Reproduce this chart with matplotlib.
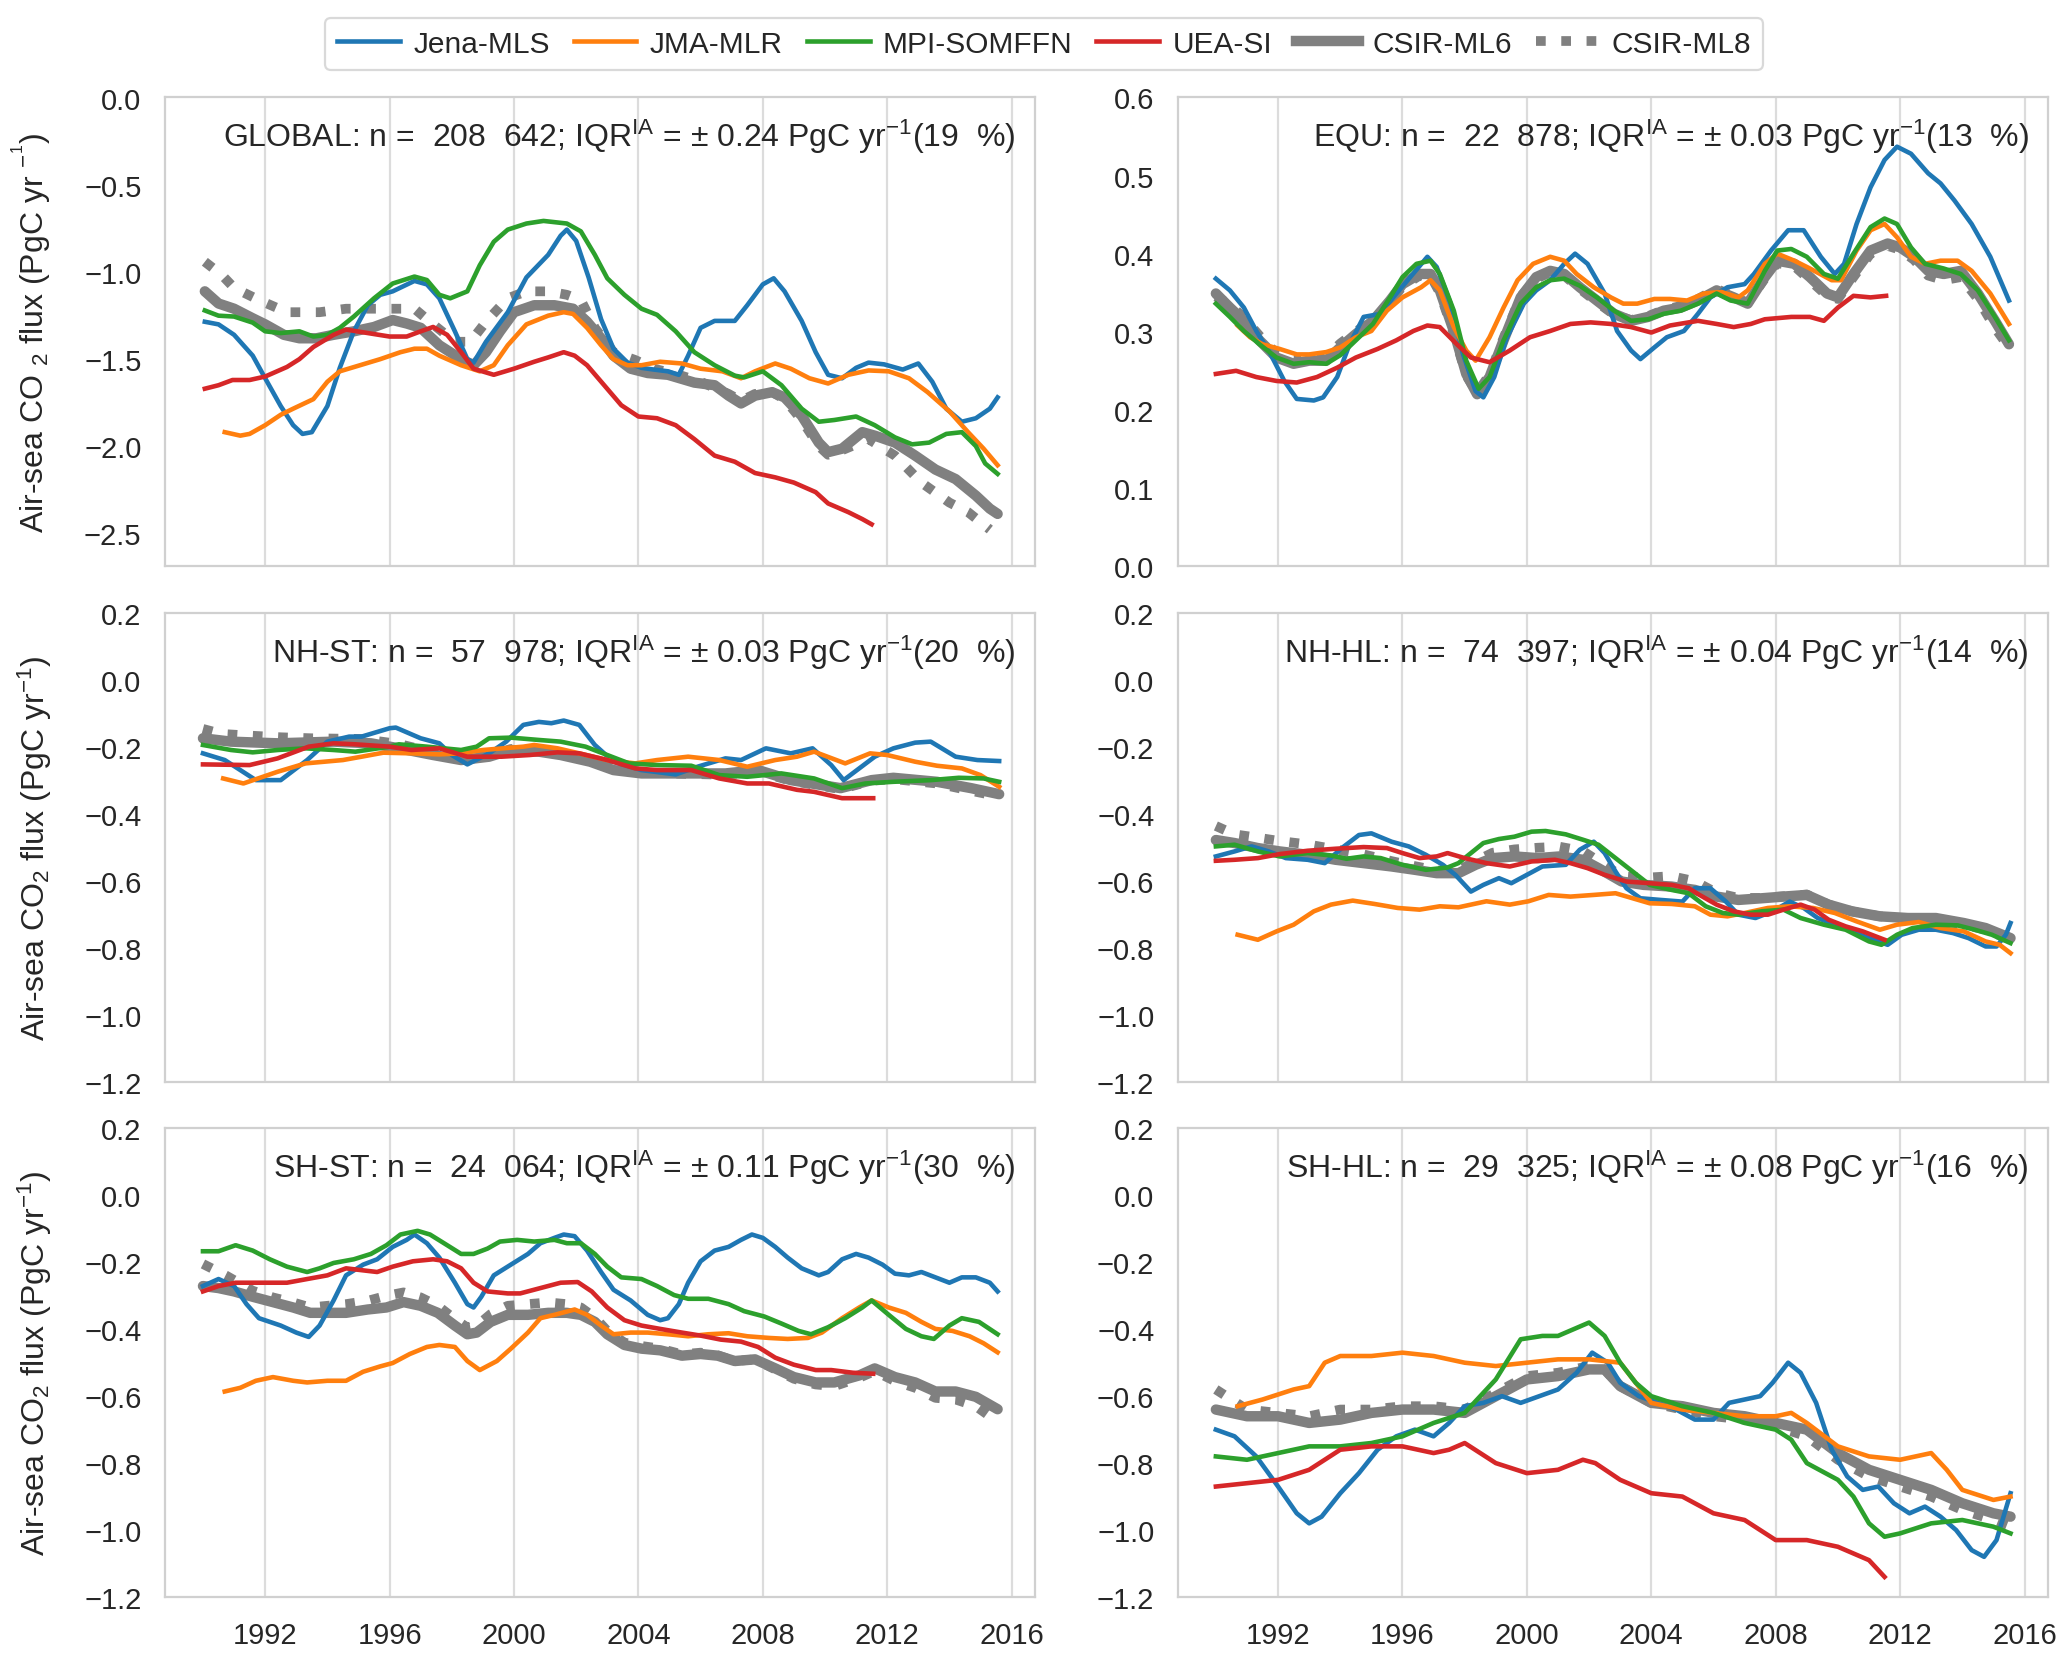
import numpy as np
import matplotlib
matplotlib.use("Agg")
import matplotlib.pyplot as plt
from matplotlib.lines import Line2D

plt.rcParams['font.family'] = ['Liberation Sans', 'DejaVu Sans']
plt.rcParams['mathtext.fontset'] = 'custom'
plt.rcParams['mathtext.rm'] = 'Liberation Sans'
plt.rcParams['mathtext.it'] = 'Liberation Sans:italic'
plt.rcParams['mathtext.bf'] = 'Liberation Sans:bold'
plt.rcParams['axes.unicode_minus'] = True

# ---------------- data (year, PgC/yr) ----------------
GLOBAL_JENA = [(1990.06,-1.285),(1990.5,-1.30),(1991.0,-1.36),(1991.6,-1.48),(1992.0,-1.61),(1992.5,-1.77),(1992.9,-1.88),(1993.2,-1.93),(1993.5,-1.92),(1994.0,-1.77),(1994.4,-1.55),(1994.85,-1.34),(1995.3,-1.19),(1995.7,-1.13),(1996.1,-1.11),(1996.8,-1.05),(1997.2,-1.07),(1997.6,-1.15),(1998.1,-1.34),(1998.5,-1.50),(1998.7,-1.52),(1999.1,-1.40),(1999.8,-1.23),(2000.4,-1.03),(2001.1,-0.90),(2001.5,-0.79),(2001.7,-0.755),(2002.0,-0.82),(2002.4,-1.03),(2002.8,-1.27),(2003.2,-1.44),(2003.65,-1.52),(2004.1,-1.55),(2004.5,-1.56),(2004.95,-1.57),(2005.3,-1.59),(2005.6,-1.48),(2006.0,-1.32),(2006.45,-1.28),(2007.1,-1.28),(2007.5,-1.19),(2008.0,-1.07),(2008.35,-1.035),(2008.7,-1.11),(2009.25,-1.28),(2009.7,-1.46),(2010.1,-1.59),(2010.55,-1.61),(2011.0,-1.55),(2011.4,-1.52),(2011.9,-1.53),(2012.5,-1.56),(2013.0,-1.525),(2013.45,-1.63),(2013.9,-1.785),(2014.4,-1.86),(2014.85,-1.84),(2015.3,-1.785),(2015.55,-1.72)]
GLOBAL_JMA = [(1990.7,-1.92),(1991.2,-1.94),(1991.5,-1.93),(1992.0,-1.88),(1992.5,-1.82),(1992.9,-1.785),(1993.55,-1.73),(1994.0,-1.63),(1994.4,-1.57),(1995.05,-1.535),(1995.7,-1.50),(1996.35,-1.46),(1996.8,-1.44),(1997.2,-1.44),(1997.6,-1.48),(1998.3,-1.535),(1998.9,-1.57),(1999.35,-1.535),(1999.8,-1.42),(2000.4,-1.30),(2001.1,-1.25),(2001.6,-1.23),(2001.9,-1.24),(2002.35,-1.32),(2002.8,-1.42),(2003.2,-1.50),(2003.65,-1.535),(2004.1,-1.535),(2004.7,-1.515),(2005.4,-1.525),(2006.0,-1.555),(2006.7,-1.57),(2007.3,-1.61),(2007.75,-1.57),(2008.4,-1.525),(2008.9,-1.555),(2009.5,-1.61),(2010.1,-1.64),(2010.75,-1.59),(2011.4,-1.565),(2012.05,-1.57),(2012.7,-1.61),(2013.3,-1.69),(2014.0,-1.80),(2014.6,-1.92),(2015.1,-2.015),(2015.55,-2.11)]
GLOBAL_MPI = [(1990.06,-1.22),(1990.5,-1.25),(1991.0,-1.255),(1991.6,-1.29),(1992.0,-1.34),(1992.5,-1.35),(1993.1,-1.34),(1993.55,-1.37),(1994.0,-1.36),(1994.4,-1.32),(1994.85,-1.255),(1995.5,-1.15),(1996.1,-1.065),(1996.8,-1.025),(1997.2,-1.045),(1997.6,-1.13),(1997.95,-1.15),(1998.5,-1.11),(1998.9,-0.96),(1999.35,-0.825),(1999.8,-0.755),(2000.4,-0.72),(2000.95,-0.705),(2001.7,-0.72),(2002.15,-0.765),(2002.6,-0.90),(2003.0,-1.035),(2003.55,-1.13),(2004.1,-1.21),(2004.6,-1.245),(2005.2,-1.34),(2005.8,-1.46),(2006.45,-1.535),(2007.1,-1.595),(2007.4,-1.605),(2008.0,-1.57),(2008.6,-1.65),(2009.25,-1.785),(2009.8,-1.86),(2010.3,-1.85),(2011.0,-1.83),(2011.6,-1.88),(2012.25,-1.95),(2012.8,-1.99),(2013.35,-1.98),(2013.9,-1.93),(2014.4,-1.92),(2014.85,-2.0),(2015.15,-2.10),(2015.55,-2.16)]
GLOBAL_UEA = [(1990.06,-1.67),(1990.5,-1.65),(1990.95,-1.62),(1991.5,-1.62),(1992.0,-1.60),(1992.7,-1.545),(1993.1,-1.50),(1993.55,-1.43),(1994.2,-1.36),(1994.6,-1.33),(1995.3,-1.35),(1996.0,-1.37),(1996.55,-1.37),(1997.0,-1.34),(1997.4,-1.315),(1997.85,-1.36),(1998.3,-1.46),(1998.7,-1.555),(1999.35,-1.59),(2000.0,-1.555),(2000.65,-1.515),(2001.1,-1.49),(2001.6,-1.46),(2001.95,-1.48),(2002.35,-1.535),(2002.9,-1.65),(2003.45,-1.765),(2004.0,-1.83),(2004.6,-1.84),(2005.2,-1.88),(2005.8,-1.96),(2006.45,-2.055),(2007.1,-2.09),(2007.75,-2.155),(2008.4,-2.18),(2009.0,-2.21),(2009.7,-2.265),(2010.1,-2.33),(2010.75,-2.38),(2011.2,-2.42),(2011.5,-2.45)]
GLOBAL_ML6 = [(1990.06,-1.11),(1990.5,-1.18),(1991.0,-1.21),(1991.6,-1.265),(1992.0,-1.30),(1992.6,-1.36),(1993.1,-1.38),(1993.65,-1.38),(1994.2,-1.36),(1994.85,-1.34),(1995.5,-1.315),(1996.1,-1.275),(1996.55,-1.295),(1997.0,-1.32),(1997.6,-1.42),(1998.3,-1.50),(1998.7,-1.535),(1999.1,-1.46),(1999.55,-1.34),(2000.0,-1.23),(2000.65,-1.19),(2001.3,-1.19),(2001.9,-1.21),(2002.35,-1.285),(2002.8,-1.38),(2003.2,-1.48),(2003.75,-1.555),(2004.3,-1.58),(2004.95,-1.59),(2005.8,-1.635),(2006.45,-1.65),(2006.9,-1.71),(2007.3,-1.755),(2007.75,-1.71),(2008.3,-1.69),(2008.7,-1.72),(2009.25,-1.825),(2009.8,-1.98),(2010.1,-2.035),(2010.55,-2.015),(2011.2,-1.92),(2011.6,-1.94),(2012.25,-1.98),(2012.9,-2.055),(2013.55,-2.135),(2014.2,-2.19),(2014.85,-2.285),(2015.3,-2.36),(2015.55,-2.39)]
GLOBAL_ML8 = [(1990.06,-0.94),(1990.6,-1.015),(1991.0,-1.09),(1991.8,-1.16),(1992.7,-1.23),(1993.75,-1.23),(1994.6,-1.21),(1995.4,-1.21),(1996.1,-1.21),(1996.8,-1.21),(1997.4,-1.30),(1998.1,-1.40),(1998.6,-1.40),(1999.1,-1.285),(1999.8,-1.15),(2000.4,-1.11),(2001.1,-1.11),(2001.7,-1.13),(2002.15,-1.16),(2002.6,-1.32),(2003.2,-1.46),(2003.9,-1.505),(2004.5,-1.555),(2005.3,-1.59),(2006.0,-1.63),(2006.9,-1.70),(2007.3,-1.74),(2007.75,-1.70),(2008.3,-1.69),(2008.7,-1.73),(2009.25,-1.85),(2009.8,-2.0),(2010.1,-2.05),(2010.6,-2.02),(2011.4,-1.96),(2012.25,-2.055),(2013.1,-2.21),(2014.0,-2.325),(2014.6,-2.38),(2015.3,-2.48)]

EQU_JENA = [(1990.0,0.368),(1990.45,0.353),(1990.9,0.331),(1991.3,0.301),(1991.75,0.272),(1992.2,0.237),(1992.6,0.214),(1993.15,0.212),(1993.45,0.216),(1993.9,0.242),(1994.3,0.284),(1994.75,0.319),(1995.3,0.323),(1995.7,0.344),(1996.25,0.370),(1996.8,0.396),(1997.1,0.383),(1997.55,0.336),(1997.95,0.271),(1998.35,0.224),(1998.6,0.216),(1998.95,0.242),(1999.35,0.292),(1999.9,0.336),(2000.3,0.353),(2000.75,0.366),(2001.2,0.387),(2001.55,0.40),(2001.95,0.387),(2002.5,0.349),(2002.9,0.301),(2003.35,0.276),(2003.65,0.265),(2004.1,0.28),(2004.5,0.293),(2005.05,0.301),(2005.5,0.323),(2005.9,0.344),(2006.45,0.357),(2007.0,0.361),(2007.3,0.374),(2007.85,0.404),(2008.4,0.43),(2008.9,0.43),(2009.45,0.396),(2009.9,0.374),(2010.2,0.387),(2010.6,0.438),(2011.05,0.485),(2011.5,0.52),(2011.9,0.537),(2012.35,0.528),(2012.9,0.503),(2013.3,0.49),(2013.75,0.468),(2014.3,0.438),(2014.9,0.396),(2015.5,0.34)]
EQU_JMA = [(1990.7,0.308),(1991.1,0.293),(1991.5,0.284),(1992.05,0.278),(1992.6,0.271),(1993.0,0.271),(1993.55,0.274),(1994.0,0.28),(1994.5,0.293),(1995.0,0.301),(1995.5,0.327),(1996.0,0.344),(1996.6,0.357),(1996.9,0.366),(1997.2,0.353),(1997.65,0.306),(1998.05,0.276),(1998.35,0.263),(1998.8,0.293),(1999.25,0.331),(1999.7,0.366),(2000.2,0.387),(2000.75,0.396),(2001.2,0.391),(2001.6,0.374),(2002.15,0.357),(2002.7,0.344),(2003.1,0.336),(2003.55,0.336),(2004.1,0.342),(2004.6,0.342),(2005.15,0.34),(2005.7,0.349),(2006.25,0.351),(2006.8,0.344),(2007.1,0.353),(2007.65,0.387),(2008.05,0.40),(2008.6,0.391),(2009.1,0.381),(2009.8,0.366),(2010.1,0.366),(2010.6,0.404),(2011.05,0.43),(2011.5,0.438),(2011.9,0.421),(2012.35,0.396),(2012.8,0.387),(2013.3,0.391),(2013.85,0.391),(2014.3,0.378),(2014.9,0.349),(2015.5,0.31)]
EQU_MPI = [(1990.0,0.336),(1990.45,0.319),(1990.9,0.301),(1991.4,0.284),(1991.95,0.267),(1992.5,0.259),(1993.0,0.261),(1993.55,0.259),(1994.0,0.27),(1994.5,0.289),(1995.05,0.31),(1995.6,0.344),(1996.0,0.370),(1996.45,0.387),(1996.9,0.391),(1997.2,0.374),(1997.65,0.327),(1998.05,0.263),(1998.45,0.227),(1998.8,0.242),(1999.25,0.289),(1999.8,0.336),(2000.3,0.357),(2000.75,0.366),(2001.2,0.368),(2001.7,0.359),(2002.25,0.344),(2002.8,0.327),(2003.35,0.314),(2003.9,0.316),(2004.4,0.323),(2004.95,0.327),(2005.5,0.336),(2006.1,0.349),(2006.55,0.34),(2007.1,0.336),(2007.65,0.378),(2008.05,0.404),(2008.5,0.406),(2009.0,0.396),(2009.55,0.374),(2010.0,0.368),(2010.5,0.40),(2011.05,0.434),(2011.5,0.445),(2011.9,0.438),(2012.35,0.408),(2012.8,0.387),(2013.4,0.381),(2013.95,0.374),(2014.5,0.353),(2015.05,0.319),(2015.5,0.289)]
EQU_UEA = [(1990.0,0.246),(1990.65,0.25),(1991.3,0.242),(1991.95,0.237),(1992.6,0.235),(1993.25,0.242),(1993.9,0.254),(1994.5,0.267),(1995.2,0.278),(1995.8,0.289),(1996.35,0.301),(1996.8,0.308),(1997.2,0.306),(1997.75,0.284),(1998.2,0.267),(1998.8,0.261),(1999.45,0.276),(2000.1,0.293),(2000.75,0.301),(2001.4,0.31),(2002.05,0.312),(2002.7,0.31),(2003.35,0.306),(2004.0,0.299),(2004.6,0.308),(2005.5,0.314),(2006.1,0.31),(2006.65,0.306),(2007.2,0.31),(2007.65,0.316),(2008.5,0.319),(2009.1,0.319),(2009.55,0.314),(2010.0,0.331),(2010.5,0.346),(2011.05,0.344),(2011.55,0.346)]
EQU_ML6 = [(1990.0,0.349),(1990.45,0.331),(1990.9,0.314),(1991.4,0.289),(1991.95,0.267),(1992.5,0.259),(1993.0,0.263),(1993.55,0.263),(1994.0,0.28),(1994.5,0.297),(1995.05,0.314),(1995.6,0.34),(1996.0,0.361),(1996.55,0.374),(1996.9,0.374),(1997.2,0.353),(1997.65,0.301),(1998.05,0.246),(1998.4,0.22),(1998.8,0.242),(1999.25,0.289),(1999.8,0.344),(2000.3,0.370),(2000.75,0.378),(2001.2,0.374),(2001.7,0.357),(2002.25,0.34),(2002.8,0.323),(2003.35,0.314),(2003.9,0.319),(2004.4,0.327),(2004.95,0.331),(2005.5,0.34),(2006.1,0.353),(2006.65,0.344),(2007.1,0.336),(2007.65,0.370),(2008.05,0.391),(2008.6,0.387),(2009.1,0.370),(2009.65,0.349),(2010.0,0.344),(2010.5,0.374),(2011.05,0.404),(2011.6,0.413),(2012.0,0.408),(2012.45,0.396),(2012.9,0.378),(2013.4,0.374),(2013.95,0.378),(2014.5,0.349),(2015.05,0.314),(2015.5,0.284)]
EQU_ML8 = [(1990.0,0.345),(1990.45,0.335),(1990.9,0.318),(1991.4,0.295),(1991.95,0.272),(1992.5,0.262),(1993.0,0.266),(1993.55,0.268),(1994.0,0.285),(1994.5,0.30),(1995.05,0.315),(1995.6,0.338),(1996.0,0.358),(1996.55,0.372),(1996.9,0.372),(1997.2,0.35),(1997.65,0.298),(1998.05,0.244),(1998.4,0.222),(1998.8,0.245),(1999.25,0.292),(1999.8,0.345),(2000.3,0.368),(2000.75,0.376),(2001.2,0.372),(2001.7,0.355),(2002.25,0.338),(2002.8,0.322),(2003.35,0.315),(2003.9,0.32),(2004.4,0.328),(2004.95,0.333),(2005.5,0.342),(2006.1,0.355),(2006.65,0.345),(2007.1,0.337),(2007.65,0.368),(2008.05,0.388),(2008.6,0.384),(2009.1,0.366),(2009.65,0.346),(2010.0,0.342),(2010.5,0.37),(2011.05,0.40),(2011.6,0.41),(2012.0,0.405),(2012.45,0.392),(2012.9,0.372),(2013.4,0.366),(2013.95,0.37),(2014.5,0.342),(2015.05,0.305),(2015.5,0.28)]

NHST_JENA = [(1990.0,-0.218),(1990.7,-0.238),(1991.7,-0.298),(1992.5,-0.298),(1993.35,-0.238),(1994.0,-0.183),(1994.7,-0.168),(1995.1,-0.168),(1996.0,-0.143),(1996.2,-0.141),(1997.0,-0.173),(1997.6,-0.188),(1998.0,-0.223),(1998.5,-0.251),(1999.2,-0.218),(1999.75,-0.183),(2000.3,-0.133),(2000.8,-0.124),(2001.2,-0.128),(2001.6,-0.12),(2002.1,-0.133),(2002.6,-0.193),(2003.2,-0.243),(2004.1,-0.268),(2005.2,-0.281),(2005.9,-0.258),(2006.8,-0.233),(2007.3,-0.238),(2008.1,-0.203),(2008.9,-0.218),(2009.6,-0.203),(2010.2,-0.253),(2010.6,-0.298),(2011.1,-0.263),(2011.6,-0.228),(2012.2,-0.203),(2012.9,-0.186),(2013.4,-0.183),(2014.2,-0.228),(2014.9,-0.238),(2015.6,-0.241)]
NHST_JMA = [(1990.65,-0.293),(1991.3,-0.308),(1992.4,-0.273),(1993.3,-0.248),(1994.5,-0.238),(1995.1,-0.228),(1995.8,-0.216),(1996.7,-0.218),(1997.6,-0.221),(1998.3,-0.218),(1999.0,-0.208),(2000.3,-0.198),(2000.65,-0.193),(2001.4,-0.203),(2002.1,-0.218),(2003.0,-0.238),(2003.9,-0.248),(2004.6,-0.238),(2005.6,-0.228),(2006.6,-0.238),(2007.5,-0.258),(2008.4,-0.238),(2009.1,-0.228),(2009.65,-0.213),(2010.65,-0.248),(2011.45,-0.218),(2012.0,-0.223),(2012.9,-0.243),(2013.6,-0.255),(2014.4,-0.263),(2015.0,-0.283),(2015.6,-0.318)]
NHST_MPI = [(1990.0,-0.193),(1990.9,-0.208),(1991.6,-0.215),(1992.4,-0.208),(1993.3,-0.203),(1994.2,-0.208),(1994.9,-0.213),(1996.0,-0.198),(1996.3,-0.191),(1997.2,-0.198),(1998.3,-0.208),(1998.8,-0.198),(1999.2,-0.173),(1999.9,-0.171),(2000.8,-0.178),(2001.5,-0.183),(2002.3,-0.198),(2003.0,-0.223),(2003.7,-0.248),(2004.6,-0.253),(2005.7,-0.255),(2006.6,-0.283),(2007.5,-0.288),(2008.6,-0.278),(2009.65,-0.293),(2010.55,-0.322),(2011.3,-0.308),(2012.2,-0.303),(2013.4,-0.298),(2014.3,-0.291),(2015.1,-0.293),(2015.6,-0.303)]
NHST_UEA = [(1990.0,-0.251),(1991.5,-0.253),(1992.4,-0.233),(1993.4,-0.198),(1994.2,-0.188),(1994.9,-0.191),(1996.0,-0.198),(1996.7,-0.208),(1997.6,-0.203),(1998.5,-0.228),(1999.6,-0.228),(2000.5,-0.223),(2001.4,-0.215),(2002.1,-0.218),(2003.0,-0.238),(2003.9,-0.263),(2004.6,-0.268),(2005.7,-0.268),(2006.6,-0.293),(2007.5,-0.308),(2008.2,-0.308),(2009.1,-0.327),(2009.65,-0.333),(2010.55,-0.352),(2011.55,-0.352)]
NHST_ML6 = [(1990.0,-0.173),(1990.9,-0.183),(1992.4,-0.188),(1994.2,-0.183),(1995.4,-0.188),(1996.3,-0.203),(1997.4,-0.223),(1998.3,-0.238),(1999.2,-0.228),(1999.9,-0.208),(2000.8,-0.213),(2001.5,-0.223),(2002.45,-0.243),(2003.2,-0.268),(2004.1,-0.278),(2005.0,-0.278),(2005.9,-0.278),(2006.8,-0.278),(2007.85,-0.268),(2008.9,-0.298),(2010.5,-0.322),(2011.5,-0.298),(2012.2,-0.291),(2013.6,-0.303),(2014.7,-0.322),(2015.6,-0.34)]
NHST_ML8 = [(1990.0,-0.145),(1990.6,-0.16),(1991.5,-0.165),(1992.5,-0.17),(1993.5,-0.173),(1995.1,-0.175),(1996.3,-0.19),(1997.4,-0.215),(1998.3,-0.235),(1999.2,-0.225),(1999.9,-0.205),(2000.8,-0.21),(2001.5,-0.22),(2002.45,-0.24),(2003.2,-0.265),(2004.1,-0.275),(2005.0,-0.278),(2005.9,-0.28),(2006.8,-0.282),(2007.85,-0.272),(2008.9,-0.30),(2010.5,-0.325),(2011.5,-0.3),(2012.2,-0.295),(2013.6,-0.308),(2014.7,-0.33),(2015.6,-0.347)]

NHHL_JENA = [(1990.0,-0.526),(1990.6,-0.511),(1991.15,-0.496),(1991.7,-0.511),(1992.25,-0.531),(1992.95,-0.536),(1993.5,-0.546),(1994.05,-0.501),(1994.6,-0.462),(1995.0,-0.457),(1995.65,-0.482),(1996.2,-0.496),(1996.75,-0.521),(1997.3,-0.551),(1997.7,-0.581),(1998.2,-0.631),(1998.6,-0.611),(1999.1,-0.591),(1999.5,-0.606),(2000.0,-0.581),(2000.5,-0.556),(2001.25,-0.551),(2001.7,-0.506),(2002.15,-0.482),(2002.5,-0.516),(2002.85,-0.571),(2003.2,-0.621),(2003.65,-0.651),(2004.3,-0.656),(2005.0,-0.661),(2005.4,-0.621),(2005.9,-0.621),(2006.4,-0.661),(2006.8,-0.70),(2007.35,-0.71),(2007.9,-0.69),(2008.45,-0.661),(2008.9,-0.68),(2009.35,-0.71),(2009.9,-0.73),(2010.45,-0.75),(2011.0,-0.77),(2011.6,-0.79),(2012.05,-0.76),(2012.6,-0.745),(2013.15,-0.745),(2013.7,-0.755),(2014.2,-0.77),(2014.75,-0.795),(2015.1,-0.795),(2015.4,-0.76),(2015.55,-0.725)]
NHHL_JMA = [(1990.7,-0.76),(1991.35,-0.775),(1991.95,-0.75),(1992.5,-0.73),(1993.15,-0.69),(1993.7,-0.67),(1994.4,-0.658),(1995.1,-0.668),(1995.85,-0.68),(1996.55,-0.685),(1997.2,-0.675),(1997.8,-0.678),(1998.7,-0.66),(1999.45,-0.67),(2000.05,-0.66),(2000.7,-0.641),(2001.4,-0.646),(2002.15,-0.641),(2002.85,-0.636),(2003.4,-0.651),(2003.95,-0.666),(2004.65,-0.668),(2005.4,-0.675),(2005.9,-0.70),(2006.45,-0.705),(2007.0,-0.695),(2007.75,-0.68),(2008.45,-0.675),(2009.2,-0.68),(2009.9,-0.695),(2010.6,-0.72),(2011.35,-0.745),(2011.9,-0.73),(2012.6,-0.722),(2013.3,-0.74),(2014.05,-0.75),(2014.75,-0.78),(2015.2,-0.79),(2015.55,-0.815)]
NHHL_MPI = [(1990.0,-0.496),(1990.6,-0.491),(1991.35,-0.511),(1992.05,-0.526),(1992.95,-0.516),(1993.7,-0.523),(1994.2,-0.533),(1994.75,-0.526),(1995.3,-0.531),(1996.0,-0.551),(1996.75,-0.566),(1997.45,-0.559),(1997.8,-0.546),(1998.2,-0.516),(1998.6,-0.486),(1999.1,-0.474),(1999.6,-0.467),(2000.15,-0.452),(2000.6,-0.45),(2001.25,-0.46),(2001.8,-0.476),(2002.3,-0.491),(2002.85,-0.531),(2003.4,-0.571),(2003.95,-0.611),(2004.65,-0.626),(2005.2,-0.636),(2005.75,-0.675),(2006.3,-0.695),(2006.8,-0.70),(2007.55,-0.69),(2008.25,-0.685),(2008.8,-0.71),(2009.55,-0.73),(2010.25,-0.745),(2011.0,-0.78),(2011.4,-0.79),(2011.9,-0.76),(2012.4,-0.74),(2013.15,-0.73),(2013.85,-0.732),(2014.4,-0.745),(2014.95,-0.76),(2015.55,-0.785)]
NHHL_UEA = [(1990.0,-0.539),(1990.6,-0.536),(1991.35,-0.531),(1992.05,-0.519),(1992.95,-0.509),(1993.85,-0.503),(1994.75,-0.498),(1995.5,-0.501),(1996.0,-0.516),(1996.55,-0.531),(1997.1,-0.526),(1997.45,-0.516),(1998.0,-0.531),(1998.7,-0.546),(1999.45,-0.556),(2000.15,-0.541),(2000.9,-0.536),(2001.4,-0.546),(2001.95,-0.561),(2002.5,-0.581),(2003.2,-0.601),(2003.95,-0.606),(2004.65,-0.611),(2005.2,-0.621),(2005.55,-0.641),(2006.1,-0.67),(2006.65,-0.69),(2007.2,-0.70),(2007.75,-0.70),(2008.25,-0.685),(2008.8,-0.67),(2009.25,-0.685),(2009.7,-0.715),(2010.25,-0.735),(2010.8,-0.75),(2011.5,-0.775)]
NHHL_ML6 = [(1990.0,-0.477),(1990.6,-0.486),(1991.35,-0.501),(1992.05,-0.511),(1992.95,-0.521),(1993.85,-0.536),(1994.75,-0.546),(1995.65,-0.556),(1996.4,-0.566),(1997.1,-0.576),(1997.8,-0.576),(1998.35,-0.551),(1998.9,-0.531),(1999.6,-0.526),(2000.35,-0.531),(2001.05,-0.526),(2001.8,-0.536),(2002.3,-0.561),(2003.05,-0.601),(2003.75,-0.611),(2004.65,-0.616),(2005.4,-0.626),(2006.1,-0.646),(2006.8,-0.656),(2007.55,-0.651),(2008.25,-0.646),(2009.0,-0.641),(2009.7,-0.67),(2010.45,-0.69),(2011.35,-0.705),(2012.25,-0.71),(2013.15,-0.71),(2014.05,-0.725),(2014.75,-0.74),(2015.55,-0.77)]
NHHL_ML8 = [(1990.0,-0.435),(1990.6,-0.46),(1991.35,-0.47),(1992.05,-0.48),(1992.95,-0.49),(1993.85,-0.505),(1994.75,-0.52),(1995.65,-0.54),(1996.4,-0.555),(1997.1,-0.568),(1997.8,-0.568),(1998.35,-0.54),(1998.9,-0.515),(1999.6,-0.505),(2000.35,-0.50),(2001.05,-0.497),(2001.8,-0.51),(2002.3,-0.54),(2003.05,-0.585),(2003.75,-0.59),(2004.65,-0.585),(2005.4,-0.60),(2006.1,-0.635),(2006.8,-0.65),(2007.55,-0.65),(2008.25,-0.645),(2009.0,-0.64),(2009.7,-0.67),(2010.45,-0.69),(2011.35,-0.705),(2012.25,-0.712),(2013.15,-0.715),(2014.05,-0.73),(2014.75,-0.745),(2015.55,-0.775)]

SHST_JENA = [(1990.0,-0.271),(1990.5,-0.25),(1991.0,-0.271),(1991.4,-0.325),(1991.8,-0.367),(1992.5,-0.389),(1993.0,-0.41),(1993.4,-0.423),(1993.75,-0.389),(1994.2,-0.314),(1994.6,-0.239),(1995.15,-0.207),(1995.6,-0.191),(1996.1,-0.154),(1996.55,-0.133),(1996.8,-0.117),(1997.2,-0.143),(1997.6,-0.186),(1998.1,-0.261),(1998.5,-0.325),(1998.7,-0.335),(1998.95,-0.303),(1999.35,-0.239),(1999.9,-0.207),(2000.45,-0.175),(2000.85,-0.143),(2001.3,-0.127),(2001.6,-0.117),(2001.95,-0.122),(2002.35,-0.165),(2002.8,-0.229),(2003.2,-0.282),(2003.75,-0.314),(2004.3,-0.357),(2004.7,-0.373),(2004.95,-0.367),(2005.3,-0.325),(2005.6,-0.261),(2006.0,-0.197),(2006.45,-0.165),(2006.9,-0.154),(2007.3,-0.133),(2007.65,-0.117),(2008.0,-0.127),(2008.4,-0.154),(2008.8,-0.186),(2009.25,-0.218),(2009.8,-0.239),(2010.1,-0.229),(2010.55,-0.191),(2011.0,-0.175),(2011.4,-0.186),(2011.85,-0.207),(2012.25,-0.234),(2012.7,-0.239),(2013.1,-0.229),(2013.55,-0.245),(2014.0,-0.261),(2014.4,-0.245),(2014.85,-0.245),(2015.3,-0.261),(2015.55,-0.287)]
SHST_JMA = [(1990.7,-0.586),(1991.2,-0.575),(1991.7,-0.554),(1992.25,-0.543),(1992.9,-0.554),(1993.35,-0.559),(1994.0,-0.554),(1994.6,-0.554),(1995.15,-0.527),(1995.7,-0.511),(1996.1,-0.501),(1996.65,-0.474),(1997.2,-0.453),(1997.6,-0.447),(1998.1,-0.453),(1998.5,-0.495),(1998.9,-0.522),(1999.45,-0.495),(1999.9,-0.458),(2000.45,-0.41),(2000.85,-0.367),(2001.3,-0.357),(2001.95,-0.341),(2002.35,-0.357),(2002.8,-0.389),(2003.2,-0.415),(2003.75,-0.41),(2004.3,-0.41),(2004.95,-0.415),(2005.6,-0.421),(2006.25,-0.415),(2006.9,-0.412),(2007.5,-0.421),(2008.2,-0.426),(2008.8,-0.429),(2009.45,-0.426),(2009.9,-0.41),(2010.55,-0.367),(2011.1,-0.335),(2011.5,-0.314),(2012.05,-0.335),(2012.6,-0.351),(2013.1,-0.378),(2013.55,-0.399),(2014.1,-0.405),(2014.65,-0.421),(2015.1,-0.442),(2015.55,-0.469)]
SHST_MPI = [(1990.0,-0.167),(1990.5,-0.167),(1991.05,-0.149),(1991.6,-0.165),(1992.15,-0.191),(1992.7,-0.213),(1993.35,-0.229),(1993.75,-0.218),(1994.2,-0.202),(1994.85,-0.191),(1995.4,-0.175),(1995.9,-0.149),(1996.35,-0.117),(1996.9,-0.106),(1997.3,-0.117),(1997.75,-0.143),(1998.3,-0.175),(1998.7,-0.175),(1999.15,-0.159),(1999.55,-0.138),(2000.1,-0.133),(2000.65,-0.138),(2001.3,-0.133),(2001.7,-0.143),(2002.15,-0.143),(2002.6,-0.175),(2003.0,-0.213),(2003.45,-0.245),(2004.1,-0.25),(2004.6,-0.271),(2005.15,-0.298),(2005.6,-0.309),(2006.25,-0.309),(2006.9,-0.325),(2007.4,-0.346),(2008.05,-0.362),(2008.6,-0.383),(2009.15,-0.405),(2009.55,-0.415),(2010.1,-0.394),(2010.65,-0.367),(2011.2,-0.335),(2011.5,-0.314),(2012.05,-0.357),(2012.6,-0.399),(2013.1,-0.421),(2013.5,-0.429),(2014.0,-0.389),(2014.4,-0.367),(2014.95,-0.378),(2015.55,-0.415)]
SHST_UEA = [(1990.0,-0.287),(1990.5,-0.271),(1991.05,-0.261),(1992.0,-0.261),(1992.7,-0.261),(1993.35,-0.25),(1994.0,-0.239),(1994.6,-0.218),(1995.05,-0.223),(1995.6,-0.229),(1996.1,-0.213),(1996.75,-0.197),(1997.4,-0.191),(1997.85,-0.197),(1998.3,-0.218),(1998.7,-0.261),(1999.15,-0.287),(1999.8,-0.293),(2000.2,-0.293),(2000.85,-0.277),(2001.5,-0.261),(2002.05,-0.259),(2002.5,-0.287),(2003.0,-0.335),(2003.55,-0.373),(2004.1,-0.389),(2004.7,-0.399),(2005.4,-0.41),(2006.0,-0.419),(2006.65,-0.431),(2007.3,-0.437),(2007.85,-0.453),(2008.4,-0.485),(2009.0,-0.506),(2009.7,-0.522),(2010.2,-0.522),(2010.9,-0.53),(2011.55,-0.533)]
SHST_ML6 = [(1990.0,-0.271),(1990.5,-0.277),(1991.0,-0.287),(1991.6,-0.303),(1992.25,-0.319),(1992.9,-0.335),(1993.45,-0.351),(1994.0,-0.351),(1994.6,-0.351),(1995.3,-0.341),(1995.9,-0.335),(1996.45,-0.319),(1997.0,-0.33),(1997.55,-0.351),(1998.1,-0.389),(1998.5,-0.415),(1998.8,-0.41),(1999.25,-0.378),(1999.8,-0.357),(2000.45,-0.357),(2001.1,-0.351),(2001.7,-0.351),(2002.15,-0.357),(2002.6,-0.378),(2003.0,-0.415),(2003.55,-0.447),(2004.1,-0.458),(2004.7,-0.463),(2005.4,-0.479),(2006.0,-0.474),(2006.55,-0.479),(2007.1,-0.495),(2007.75,-0.49),(2008.4,-0.517),(2009.0,-0.543),(2009.7,-0.559),(2010.3,-0.559),(2011.1,-0.538),(2011.6,-0.517),(2012.25,-0.543),(2012.9,-0.559),(2013.55,-0.586),(2014.2,-0.586),(2014.85,-0.602),(2015.55,-0.639)]
SHST_ML8 = [(1990.0,-0.205),(1990.75,-0.24),(1991.6,-0.285),(1992.25,-0.305),(1992.9,-0.32),(1993.45,-0.335),(1994.0,-0.33),(1994.6,-0.325),(1995.3,-0.315),(1995.9,-0.30),(1996.45,-0.29),(1997.0,-0.305),(1997.55,-0.33),(1998.1,-0.37),(1998.5,-0.395),(1998.8,-0.39),(1999.25,-0.355),(1999.8,-0.33),(2000.45,-0.325),(2001.1,-0.32),(2001.7,-0.325),(2002.15,-0.335),(2002.6,-0.365),(2003.0,-0.405),(2003.55,-0.44),(2004.1,-0.45),(2004.7,-0.458),(2005.4,-0.475),(2006.0,-0.47),(2006.55,-0.478),(2007.1,-0.495),(2007.75,-0.49),(2008.4,-0.52),(2009.0,-0.548),(2009.7,-0.565),(2010.3,-0.57),(2011.1,-0.545),(2011.6,-0.525),(2012.25,-0.555),(2012.9,-0.575),(2013.55,-0.605),(2014.2,-0.61),(2014.85,-0.63),(2015.45,-0.67)]

SHHL_JENA = [(1990.0,-0.70),(1990.6,-0.72),(1991.3,-0.78),(1992.0,-0.87),(1992.6,-0.95),(1993.0,-0.98),(1993.4,-0.96),(1994.0,-0.89),(1994.6,-0.83),(1995.2,-0.76),(1995.8,-0.72),(1996.4,-0.70),(1997.0,-0.72),(1997.5,-0.68),(1998.0,-0.63),(1998.6,-0.62),(1999.2,-0.60),(1999.8,-0.62),(2000.4,-0.60),(2001.0,-0.58),(2001.6,-0.53),(2002.1,-0.47),(2002.6,-0.50),(2003.0,-0.56),(2003.6,-0.60),(2004.2,-0.62),(2004.8,-0.64),(2005.4,-0.67),(2006.0,-0.67),(2006.5,-0.62),(2007.0,-0.61),(2007.5,-0.60),(2007.9,-0.56),(2008.4,-0.50),(2008.8,-0.53),(2009.3,-0.62),(2009.8,-0.76),(2010.3,-0.84),(2010.8,-0.88),(2011.3,-0.87),(2011.8,-0.92),(2012.3,-0.95),(2012.8,-0.93),(2013.3,-0.96),(2013.8,-1.00),(2014.3,-1.06),(2014.7,-1.08),(2015.1,-1.03),(2015.55,-0.89)]
SHHL_JMA = [(1990.7,-0.63),(1991.5,-0.61),(1992.5,-0.58),(1993.0,-0.57),(1993.5,-0.50),(1994.0,-0.48),(1995.0,-0.48),(1996.0,-0.47),(1997.0,-0.48),(1998.0,-0.50),(1999.0,-0.51),(2000.0,-0.50),(2001.0,-0.49),(2002.0,-0.49),(2003.0,-0.50),(2003.5,-0.56),(2004.0,-0.62),(2005.0,-0.64),(2006.0,-0.65),(2007.0,-0.66),(2008.0,-0.66),(2008.5,-0.65),(2009.0,-0.68),(2010.0,-0.75),(2011.0,-0.78),(2012.0,-0.79),(2013.0,-0.77),(2013.5,-0.82),(2014.0,-0.88),(2015.0,-0.91),(2015.55,-0.90)]
SHHL_MPI = [(1990.0,-0.78),(1991.0,-0.79),(1992.0,-0.77),(1993.0,-0.75),(1994.0,-0.75),(1995.0,-0.74),(1996.0,-0.72),(1997.0,-0.68),(1998.0,-0.65),(1999.0,-0.55),(1999.8,-0.43),(2000.5,-0.42),(2001.0,-0.42),(2001.5,-0.40),(2002.0,-0.38),(2002.5,-0.42),(2003.0,-0.50),(2003.5,-0.56),(2004.0,-0.60),(2005.0,-0.63),(2006.0,-0.65),(2007.0,-0.68),(2008.0,-0.70),(2008.5,-0.73),(2009.0,-0.80),(2010.0,-0.85),(2010.5,-0.90),(2011.0,-0.98),(2011.5,-1.02),(2012.0,-1.01),(2013.0,-0.98),(2014.0,-0.97),(2014.5,-0.98),(2015.0,-0.99),(2015.55,-1.01)]
SHHL_UEA = [(1990.0,-0.87),(1991.0,-0.86),(1992.0,-0.85),(1993.0,-0.82),(1994.0,-0.76),(1995.0,-0.75),(1996.0,-0.75),(1997.0,-0.77),(1997.5,-0.76),(1998.0,-0.74),(1999.0,-0.80),(2000.0,-0.83),(2001.0,-0.82),(2001.8,-0.79),(2002.2,-0.80),(2003.0,-0.85),(2004.0,-0.89),(2005.0,-0.90),(2006.0,-0.95),(2007.0,-0.97),(2008.0,-1.03),(2009.0,-1.03),(2010.0,-1.05),(2011.0,-1.09),(2011.5,-1.14)]
SHHL_ML6 = [(1990.0,-0.64),(1991.0,-0.66),(1992.0,-0.66),(1993.0,-0.68),(1994.0,-0.67),(1995.0,-0.65),(1996.0,-0.64),(1997.0,-0.64),(1998.0,-0.65),(1999.0,-0.60),(2000.0,-0.55),(2001.0,-0.54),(2002.0,-0.52),(2002.5,-0.52),(2003.0,-0.57),(2004.0,-0.62),(2005.0,-0.63),(2006.0,-0.65),(2007.0,-0.66),(2008.0,-0.68),(2009.0,-0.70),(2010.0,-0.77),(2011.0,-0.82),(2012.0,-0.85),(2013.0,-0.88),(2014.0,-0.92),(2015.0,-0.95),(2015.55,-0.96)]
SHHL_ML8 = [(1990.0,-0.58),(1991.0,-0.64),(1992.0,-0.65),(1993.0,-0.66),(1994.0,-0.64),(1995.0,-0.64),(1996.0,-0.63),(1997.0,-0.63),(1998.0,-0.64),(1999.0,-0.59),(2000.0,-0.54),(2001.0,-0.53),(2002.0,-0.51),(2002.5,-0.52),(2003.0,-0.57),(2004.0,-0.62),(2005.0,-0.64),(2006.0,-0.66),(2007.0,-0.67),(2008.0,-0.69),(2009.0,-0.72),(2010.0,-0.79),(2011.0,-0.84),(2012.0,-0.87),(2013.0,-0.90),(2014.0,-0.94),(2015.0,-0.97),(2015.55,-0.99)]

SERIES_NAMES = ["Jena-MLS", "JMA-MLR", "MPI-SOMFFN", "UEA-SI", "CSIR-ML6", "CSIR-ML8"]
SERIES_COLORS = ["#1f77b4", "#ff7f0e", "#2ca02c", "#d62728", "#808080", "#808080"]

REGION_NAMES = ["GLOBAL", "EQU", "NH-ST", "NH-HL", "SH-ST", "SH-HL"]
REGION_N = ["208  642", "22  878", "57  978", "74  397", "24  064", "29  325"]
REGION_IQR = ["0.24", "0.03", "0.03", "0.04", "0.11", "0.08"]
REGION_PCT = ["19", "13", "20", "14", "30", "16"]
REGION_YLIM = [(-2.69, 0.005), (0.0, 0.6), (-1.2, 0.2), (-1.2, 0.2), (-1.2, 0.2), (-1.2, 0.2)]
REGION_YTICKS = [[0.0, -0.5, -1.0, -1.5, -2.0, -2.5],
                 [0.0, 0.1, 0.2, 0.3, 0.4, 0.5, 0.6],
                 [0.2, 0.0, -0.2, -0.4, -0.6, -0.8, -1.0, -1.2],
                 [0.2, 0.0, -0.2, -0.4, -0.6, -0.8, -1.0, -1.2],
                 [0.2, 0.0, -0.2, -0.4, -0.6, -0.8, -1.0, -1.2],
                 [0.2, 0.0, -0.2, -0.4, -0.6, -0.8, -1.0, -1.2]]
XTICKS = [1992, 1996, 2000, 2004, 2008, 2012, 2016]

REGION_DATA = [
    [GLOBAL_JENA, GLOBAL_JMA, GLOBAL_MPI, GLOBAL_UEA, GLOBAL_ML6, GLOBAL_ML8],
    [EQU_JENA, EQU_JMA, EQU_MPI, EQU_UEA, EQU_ML6, EQU_ML8],
    [NHST_JENA, NHST_JMA, NHST_MPI, NHST_UEA, NHST_ML6, NHST_ML8],
    [NHHL_JENA, NHHL_JMA, NHHL_MPI, NHHL_UEA, NHHL_ML6, NHHL_ML8],
    [SHST_JENA, SHST_JMA, SHST_MPI, SHST_UEA, SHST_ML6, SHST_ML8],
    [SHHL_JENA, SHHL_JMA, SHHL_MPI, SHHL_UEA, SHHL_ML6, SHHL_ML8],
]

# ---------------- figure ----------------
TXT = "#262626"
fig = plt.figure(figsize=(20.68, 16.58), dpi=100)
lefts = [0.0798, 0.5696]
bottoms = [0.658, 0.3468, 0.0362]
W, H = 0.4205, 0.2826

styles = [dict(lw=3.3, ls='-', zorder=4, solid_joinstyle='round'),
          dict(lw=3.3, ls='-', zorder=4, solid_joinstyle='round'),
          dict(lw=3.3, ls='-', zorder=4, solid_joinstyle='round'),
          dict(lw=3.3, ls='-', zorder=4, solid_joinstyle='round'),
          dict(lw=7.5, ls='-', zorder=2, solid_capstyle='round', solid_joinstyle='round'),
          dict(lw=7.0, ls=(0, (1.0, 1.6)), zorder=3, dash_capstyle='butt')]

for i in range(6):
    r, c = divmod(i, 2)
    ax = fig.add_axes([lefts[c], bottoms[r], W, H])
    for k in range(6):
        arr = np.array(REGION_DATA[i][k])
        ax.plot(arr[:, 0], arr[:, 1], color=SERIES_COLORS[k], **styles[k])
    ax.set_xlim(1988.78, 2016.74)
    ax.set_ylim(*REGION_YLIM[i])
    ax.set_yticks(REGION_YTICKS[i])
    ax.set_xticks(XTICKS)
    if r < 2:
        ax.set_xticklabels([])
    ax.grid(axis='x', color='#dcdcdc', lw=1.6)
    ax.grid(axis='y', visible=False)
    ax.set_axisbelow(True)
    for s in ax.spines.values():
        s.set_color('#d0d0d0')
        s.set_linewidth(1.6)
    ax.tick_params(axis='both', length=0, labelsize=21, colors=TXT)
    ax.tick_params(axis='y', pad=17)
    ax.tick_params(axis='x', pad=17)
    txt = (REGION_NAMES[i] + ": n =  " + REGION_N[i] + "; IQR$^{\\mathrm{IA}}$ = \u00b1 "
           + REGION_IQR[i] + " PgC yr$^{-1}$(" + REGION_PCT[i] + "  %)")
    ax.text(0.978, 0.918, txt, transform=ax.transAxes, ha='right', va='center',
            fontsize=23, color=TXT)
    if c == 0:
        if i == 0:
            lab = "Air-sea CO $_2$ flux (PgC yr $^{-^{1}}$)"
        else:
            lab = "Air-sea CO$_2$ flux (PgC yr$^{-1}$)"
        ax.set_ylabel(lab, fontsize=23, color=TXT)
        ax.yaxis.set_label_coords(-0.128, 0.5)

leg_handles = [Line2D([], [], color=SERIES_COLORS[k], lw=styles[k]['lw'], ls=styles[k]['ls'])
               for k in range(6)]
leg = fig.legend(leg_handles, SERIES_NAMES, loc='center', bbox_to_anchor=(0.505, 0.973),
                 ncol=6, fontsize=21.5, frameon=True, fancybox=True, handlelength=2.1,
                 columnspacing=0.8, handletextpad=0.45, borderpad=0.4)
leg.get_frame().set_edgecolor('#d0d0d0')
leg.get_frame().set_linewidth(1.6)
for t in leg.get_texts():
    t.set_color(TXT)

fig.savefig("out.png", dpi=100, facecolor='white')
